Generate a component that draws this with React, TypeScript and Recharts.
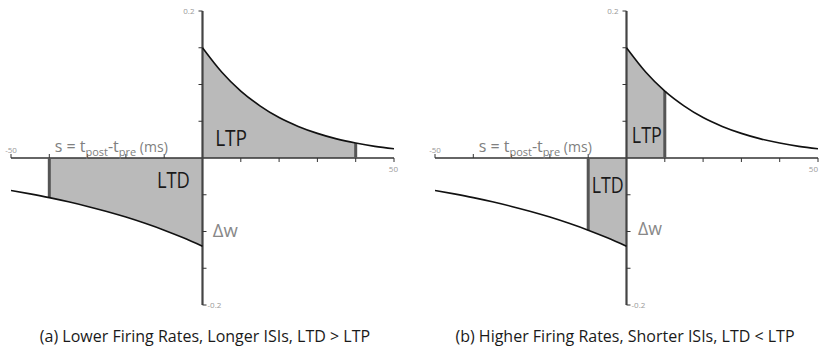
import React from 'react';
import { ComposedChart, Area, Line, XAxis, YAxis, ReferenceLine, ReferenceDot } from 'recharts';

// spike-timing window (ms -> weight change)
const ltpTime = [0, 5, 10, 15, 20, 25, 30, 35, 40, 45, 50];
const ltpWeight = [0.15, 0.117, 0.091, 0.071, 0.055, 0.043, 0.0335, 0.026, 0.0203, 0.0158, 0.0125];
const ltdTime = [-50, -45, -40, -35, -30, -25, -20, -15, -10, -5, 0];
const ltdWeight = [-0.0441, -0.0488, -0.0539, -0.0596, -0.0659, -0.0728, -0.0804, -0.0889, -0.0982, -0.1086, -0.12];

const xTicks = [-50, -40, -30, -20, -10, 10, 20, 30, 40, 50];
const yTicks = [-0.2, -0.15, -0.1, -0.05, 0.05, 0.1, 0.15, 0.2];

const panels = [
  { id: 'a', window: 40, caption: '(a) Lower Firing Rates, Longer ISIs, LTD > LTP' },
  { id: 'b', window: 10, caption: '(b) Higher Firing Rates, Shorter ISIs, LTD < LTP' },
];

const FONT = '"Open Sans", "Noto Sans", sans-serif';
const SHADE = '#bababa';
const BAR = '#555';

const ltpData = ltpTime.map((s, i) => ({ s, w: ltpWeight[i] }));
const ltdData = ltdTime.map((s, i) => ({ s, w: ltdWeight[i] }));
const weightAt = (s: number) => (s >= 0 ? ltpWeight[ltpTime.indexOf(s)] : ltdWeight[ltdTime.indexOf(s)]);

// place arbitrary svg content at a data coordinate
const textAt = (key: string, x: number, y: number, render: (cx: number, cy: number) => React.ReactElement) => (
  <ReferenceDot key={key} x={x} y={y} r={0} ifOverflow="visible" shape={(p: any) => render(p.cx, p.cy)} />
);

type Spot = [number, number, number]; // s, w, text width

function Panel({ win, endShift, labels }: { win: number; endShift: number; labels: { ltp: Spot; ltd: Spot; dw: Spot } }) {
  const ltpShade = ltpData.filter((d) => d.s <= win);
  const ltdShade = ltdData.filter((d) => d.s >= -win);

  return (
    <ComposedChart width={410} height={349} margin={{ top: 11, right: 16, bottom: 44, left: 11 }}>
      <XAxis type="number" dataKey="s" domain={[-50, 50]} hide allowDataOverflow />
      <YAxis type="number" domain={[-0.2, 0.2]} hide allowDataOverflow />

      <Area data={ltpShade} dataKey="w" type="monotone" baseValue={0} fill={SHADE} fillOpacity={1} stroke="none" isAnimationActive={false} />
      <Area data={ltdShade} dataKey="w" type="monotone" baseValue={0} fill={SHADE} fillOpacity={1} stroke="none" isAnimationActive={false} />

      <ReferenceLine y={0} stroke="#333" strokeWidth={1.5} />
      <ReferenceLine x={0} stroke="#444" strokeWidth={2.2} />

      <ReferenceLine segment={[{ x: win, y: 0 }, { x: win, y: weightAt(win) }]} stroke={BAR} strokeWidth={3} />
      <ReferenceLine segment={[{ x: -win, y: 0 }, { x: -win, y: weightAt(-win) }]} stroke={BAR} strokeWidth={3} />

      <Line data={ltpData} dataKey="w" type="monotone" stroke="#111" strokeWidth={1.6} dot={false} isAnimationActive={false} />
      <Line data={ltdData} dataKey="w" type="monotone" stroke="#111" strokeWidth={1.6} dot={false} isAnimationActive={false} />

      {xTicks.map((t) =>
        textAt('xt' + t, t, 0, (cx, cy) => (
          <line x1={cx} y1={cy} x2={cx} y2={t < 0 ? cy - 4 : cy + 4} stroke="#333" strokeWidth={1} />
        ))
      )}
      {yTicks.map((t) =>
        textAt('yt' + t, 0, t, (cx, cy) => (
          <line x1={cx} y1={cy} x2={t > 0 ? cx - 4 : cx + 4} y2={cy} stroke="#333" strokeWidth={1} />
        ))
      )}

      {textAt('l50n', -50, 0, (cx, cy) => (
        <text x={cx} y={cy - 5} textAnchor="middle" fontSize={8} fill="#999" fontFamily={FONT}>-50</text>
      ))}
      {textAt('l50p', 50, 0, (cx, cy) => (
        <text x={cx + endShift} y={cy + 14} textAnchor="end" fontSize={8} fill="#999" fontFamily={FONT}>50</text>
      ))}
      {textAt('l02p', 0, 0.2, (cx, cy) => (
        <text x={cx - 8} y={cy + 3} textAnchor="end" fontSize={8} fill="#999" fontFamily={FONT}>0.2</text>
      ))}
      {textAt('l02n', 0, -0.2, (cx, cy) => (
        <text x={cx + 5} y={cy + 3} textAnchor="start" fontSize={8} fill="#999" fontFamily={FONT}>-0.2</text>
      ))}

      {textAt('sx', -38.6, 0.008, (cx, cy) => (
        <text x={cx} y={cy} fontSize={16} fill="#808080" fontFamily={FONT}>
          s = t<tspan fontSize={11} dy={4}>post</tspan>
          <tspan dy={-4}>-t</tspan>
          <tspan fontSize={11} dy={4}>pre</tspan>
          <tspan fontSize={14} dy={-4}> (ms)</tspan>
        </text>
      ))}
      {textAt('ltp', labels.ltp[0], labels.ltp[1], (cx, cy) => (
        <text x={cx} y={cy} fontSize={21} fill="#1a1a1a" fontFamily={FONT} textLength={labels.ltp[2]} lengthAdjust="spacingAndGlyphs">LTP</text>
      ))}
      {textAt('ltd', labels.ltd[0], labels.ltd[1], (cx, cy) => (
        <text x={cx} y={cy} fontSize={21} fill="#1a1a1a" fontFamily={FONT} textLength={labels.ltd[2]} lengthAdjust="spacingAndGlyphs">LTD</text>
      ))}
      {textAt('dw', labels.dw[0], labels.dw[1], (cx, cy) => (
        <text x={cx} y={cy} fontSize={19} fill="#888" fontFamily={FONT} textLength={labels.dw[2]} lengthAdjust="spacingAndGlyphs">Δw</text>
      ))}
    </ComposedChart>
  );
}

export default function App() {
  return (
    <div style={{ position: 'absolute', left: 0, top: 0, width: 820, height: 349, background: '#fff', overflow: 'hidden' }}>
      <div style={{ position: 'absolute', left: 0, top: 0 }}>
        <Panel win={panels[0].window} endShift={4} labels={{ ltp: [3.3, 0.0157, 32], ltd: [-11.9, -0.041, 33], dw: [2.7, -0.1075, 25] }} />
      </div>
      <div style={{ position: 'absolute', left: 424, top: 0 }}>
        <Panel win={panels[1].window} endShift={0} labels={{ ltp: [1.4, 0.02, 30], ltd: [-9.1, -0.048, 32], dw: [3.0, -0.105, 24] }} />
      </div>
      <svg width={820} height={349} style={{ position: 'absolute', left: 0, top: 0, pointerEvents: 'none' }}>
        <text x={205} y={342} textAnchor="middle" fontSize={16} fill="#1a1a1a" fontFamily={FONT}>{panels[0].caption}</text>
        <text x={625} y={342} textAnchor="middle" fontSize={16} fill="#1a1a1a" fontFamily={FONT}>{panels[1].caption}</text>
      </svg>
    </div>
  );
}
